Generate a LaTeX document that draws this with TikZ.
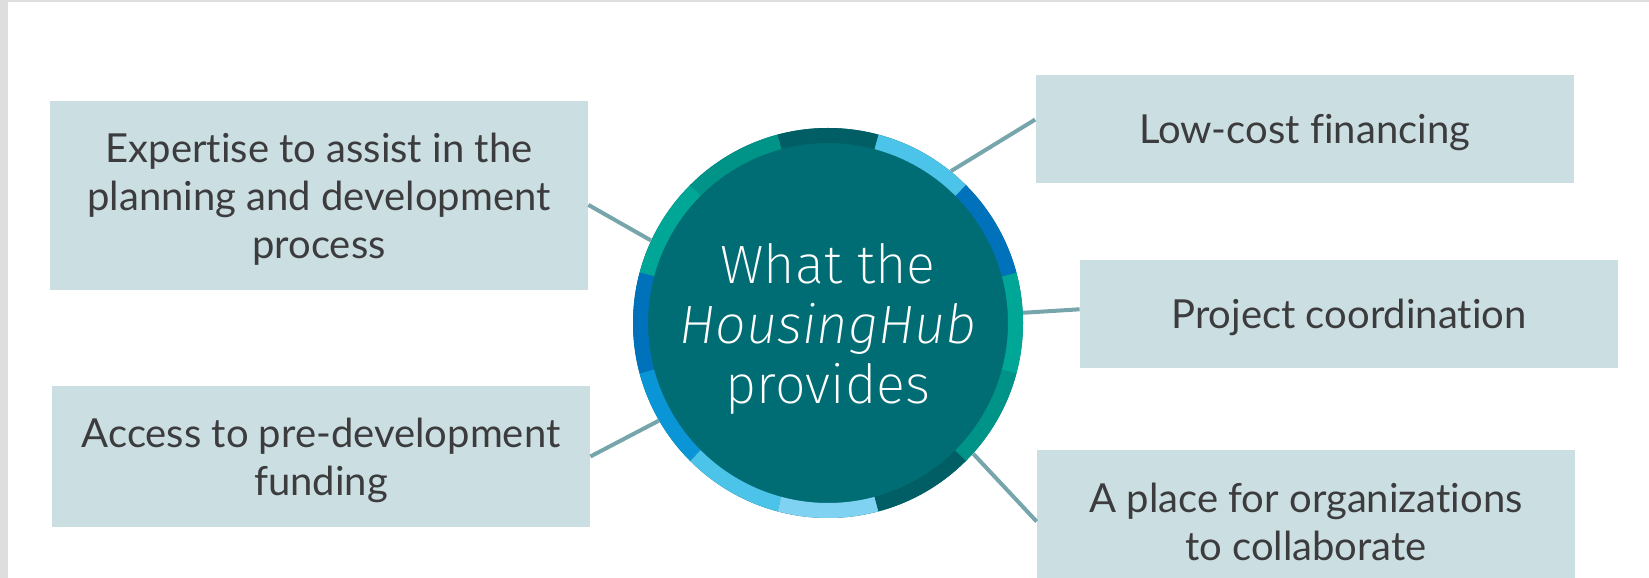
\documentclass[tikz,border=0pt]{standalone}
\usepackage{fontspec}
\setmainfont{Lato}[Ligatures = NoCommon]
\newfontfamily\hubfont{Fira Sans ExtraLight}[ItalicFont = {Fira Sans ExtraLight Italic}]

\definecolor{framegray}{RGB}{222,222,222}
\definecolor{boxfill}{RGB}{203,223,226}
\definecolor{itemtext}{RGB}{60,60,62}
\definecolor{linkteal}{RGB}{118,165,172}
\definecolor{hubteal}{RGB}{0,108,116}
\definecolor{ringdark}{RGB}{0,94,100}
\definecolor{ringteal}{RGB}{0,148,136}
\definecolor{ringgreen}{RGB}{0,166,150}
\definecolor{ringblue}{RGB}{0,114,188}
\definecolor{ringsky}{RGB}{10,150,214}
\definecolor{ringlight}{RGB}{76,196,233}
\definecolor{ringpale}{RGB}{128,210,242}

\begin{document}
\begin{tikzpicture}[
  x = 0.5pt, y = 0.5pt,
  item/.style = {fill = boxfill, text = itemtext, align = center, inner sep = 0pt,
                 text depth = 0pt, minimum width = 269pt,
                 font = \fontsize{20}{24}\selectfont},
  link/.style = {draw = linkteal, line width = 2pt},
  hub/.style = {circle, fill = hubteal, minimum size = 195pt, inner sep = 0pt,
                text depth = 0pt, text = white, align = center,
                font = \hubfont\fontsize{27}{30}\selectfont},
  ]
  \useasboundingbox (0,0) rectangle (1649,578);
  \clip (0,0) rectangle (1649,578);
  \fill[framegray] (0,0) rectangle (8,578);
  \fill[framegray] (0,576) rectangle (1649,578);

  \node[item, minimum height = 94.5pt] (expertise) at (319,382.5)
    {Expertise to assist in the\\planning and development\\process};
  \node[item, minimum height = 70.5pt] (funding) at (321,121.5)
    {Access to pre-development\\funding};
  \node[item, minimum height = 54pt] (financing) at (1304.5,449)
    {Low-cost financing};
  \node[item, minimum height = 54pt] (coordination) at (1349,264)
    {Project coordination};
  \node[item, minimum height = 71.5pt] (collaborate) at (1306,56.5)
    {A place for organizations\\to collaborate};

  \node[hub] (hub) at (828,255) {What the\\\textit{HousingHub}\\provides};
  \foreach \a/\c in {75/ringdark, 105/ringteal, 135/ringgreen, 165/ringblue,
                     195/ringsky, 225/ringlight, 255/ringpale, 285/ringdark,
                     315/ringteal, 345/ringgreen, 15/ringblue, 45/ringlight}
    \draw[line width = 7.5pt, \c] (hub.center) ++(\a:187.5)
      arc[start angle = \a, end angle = \a+30, radius = 187.5];

  \draw[link] (expertise.-2.5) -- (hub.155);
  \draw[link] (funding.east) -- (hub.210);
  \draw[link] (financing.178.8) -- (hub.51);
  \draw[link] (coordination.179) -- (hub.3);
  \draw[link] (collaborate.west) -- (hub.-42);
\end{tikzpicture}
\end{document}
